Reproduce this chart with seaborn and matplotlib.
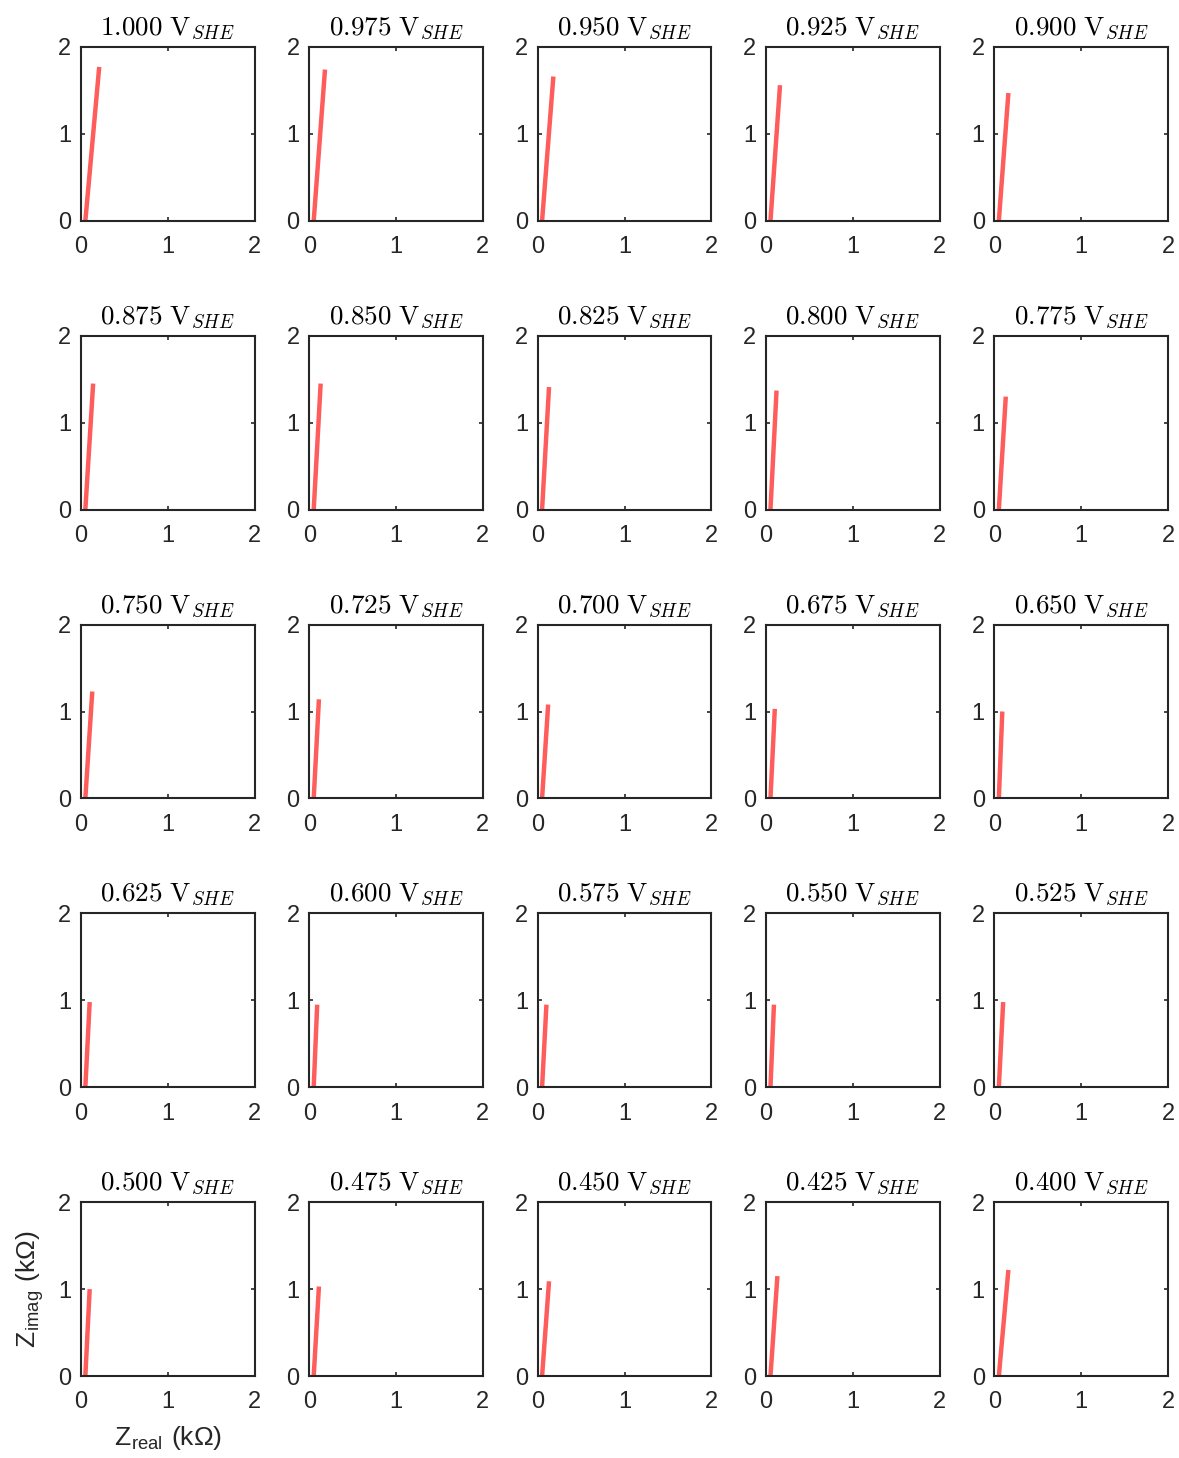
import numpy as np
import pandas as pd
import matplotlib
matplotlib.use("Agg")
import matplotlib.pyplot as plt
import seaborn as sns

potentials = [1.000, 0.975, 0.950, 0.925, 0.900,
              0.875, 0.850, 0.825, 0.800, 0.775,
              0.750, 0.725, 0.700, 0.675, 0.650,
              0.625, 0.600, 0.575, 0.550, 0.525,
              0.500, 0.475, 0.450, 0.425, 0.400]
zreal_start = [0.05] * 25
zimag_start = [0.0] * 25
zreal_end = [0.21, 0.18, 0.18, 0.16, 0.16,
             0.14, 0.13, 0.13, 0.12, 0.13,
             0.13, 0.11, 0.12, 0.10, 0.09,
             0.10, 0.09, 0.10, 0.09, 0.10,
             0.10, 0.11, 0.13, 0.13, 0.16]
zimag_end = [1.77, 1.74, 1.66, 1.56, 1.47,
             1.45, 1.45, 1.41, 1.37, 1.30,
             1.23, 1.14, 1.08, 1.03, 1.00,
             0.98, 0.95, 0.95, 0.95, 0.98,
             1.00, 1.03, 1.09, 1.15, 1.22]
ticks = [0, 1, 2]

sns.set_theme(style="white")
plt.rcParams["font.family"] = ["Liberation Sans", "DejaVu Sans"]
plt.rcParams["mathtext.fontset"] = "cm"

fig, axes = plt.subplots(5, 5, figsize=(11.79, 14.58), dpi=100)
fig.subplots_adjust(left=0.0687, right=0.9907, top=0.9678, bottom=0.0562,
                    wspace=0.316, hspace=0.661)

for i, ax in enumerate(axes.flat):
    df = pd.DataFrame({"Zreal": [zreal_start[i], zreal_end[i]],
                       "Zimag": [zimag_start[i], zimag_end[i]]})
    sns.lineplot(data=df, x="Zreal", y="Zimag", ax=ax, color="#ff5c5c",
                 linewidth=3.2, sort=False, solid_capstyle="butt")
    ax.set_xlim(0, 2)
    ax.set_ylim(0, 2)
    ax.set_xticks(ticks)
    ax.set_yticks(ticks)
    ax.set_xticklabels([str(t) for t in ticks])
    ax.set_yticklabels([str(t) for t in ticks])
    ax.tick_params(direction="in", length=3, width=1.2, colors="#262626",
                   labelsize=17, top=True, right=True, bottom=True, left=True,
                   labelcolor="#262626")
    ax.tick_params(axis="x", pad=11)
    ax.tick_params(axis="y", pad=7)
    for sp in ax.spines.values():
        sp.set_visible(True)
        sp.set_color("#262626")
        sp.set_linewidth(1.5)
    ax.set_title(r"$\mathrm{%.3f\ V}_{SHE}$" % potentials[i], fontsize=19.5,
                 pad=9, color="black")
    ax.set_xlabel("")
    ax.set_ylabel("")

axes[4, 0].set_xlabel(r"Z$_{\mathregular{real}}$ (kΩ)", fontsize=19, labelpad=8)
axes[4, 0].set_ylabel(r"Z$_{\mathregular{imag}}$ (kΩ)", fontsize=19, labelpad=9)

fig.savefig("out.png", dpi=100, facecolor="white")
